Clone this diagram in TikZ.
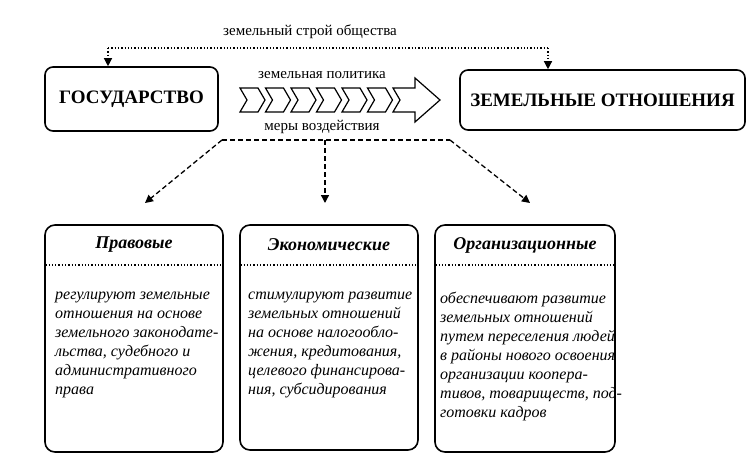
\documentclass[tikz,border=0pt]{standalone}
\usepackage{fontspec}
\setmainfont{Liberation Serif}
\usetikzlibrary{arrows.meta}
\begin{document}
\begin{tikzpicture}[x=1pt,y=-1pt,
  box/.style={draw,line width=1.6pt,rounded corners=8pt},
  card/.style={draw,line width=1.6pt,rounded corners=10pt},
  lbl/.style={font=\fontsize{15}{17}\selectfont},
  ttl/.style={font=\fontsize{18}{20}\selectfont\bfseries\itshape},
  body/.style={font=\fontsize{16}{19}\selectfont\itshape,align=left,anchor=north west,inner sep=0pt},
  dotl/.style={dotted,line width=1.3pt},
  dashln/.style={dash pattern=on 5pt off 3pt,line width=1.3pt},
  tip/.style={-{Triangle[length=8pt,width=8pt]}}]
\useasboundingbox (0,0) rectangle (756,466);
\node[box,minimum width=173pt,minimum height=64pt,font=\fontsize{19}{21}\selectfont\bfseries] (gos) at (131.5,99) {ГОСУДАРСТВО};
\node[box,minimum width=285pt,minimum height=60pt,font=\fontsize{19}{21}\selectfont\bfseries] (zo) at (602.5,100) {ЗЕМЕЛЬНЫЕ ОТНОШЕНИЯ};
\coordinate (t1) at (108,48); \coordinate (t2) at (548,48);
\draw[dotl] (t1) -- (t2);
\draw[dotl,tip] (t1) -- (gos.north -| t1);
\draw[dotl,tip] (t2) -- (zo.north -| t2);
\node[lbl] (stroj) at (310,32) {земельный строй общества};
\node[lbl] (pol) at (322,75) {земельная политика};
\node[lbl] (mery) at (322,127) {меры воздействия};
% chevrons
\foreach \i in {0,...,5}{
  \pgfmathsetmacro{\xa}{240+25.5*\i}
  \draw[line width=1.2pt] (\xa,88) -- (\xa+18,88) -- (\xa+25,100) -- (\xa+18,112) -- (\xa,112) -- (\xa+7,100) -- cycle;
}
\draw[line width=1.2pt] (393,88) -- (415,88) -- (415,78) -- (440,100) -- (415,122) -- (415,112) -- (393,112) -- (400,100) -- cycle;
% cards
\node[card,minimum width=178pt,minimum height=227pt] (c1) at (134,338.5) {};
\node[card,minimum width=178pt,minimum height=225pt] (c2) at (329,337.5) {};
\node[card,minimum width=180pt,minimum height=227pt] (c3) at (525,338.5) {};
\foreach \c/\t in {c1/Правовые,c2/Экономические,c3/Организационные}{
  \draw[dotl] ([xshift=1pt]\c.west |- 0,265) -- ([xshift=-1pt]\c.east |- 0,265);
  \node[ttl] at (\c.north |- 0,245) {\t};
}
\node[body] (b1) at (55,292) {регулируют земельные\\отношения на основе\\земельного законодате-\\льства, судебного и\\административного\\права};
\node[body] (b2) at (248,292) {стимулируют развитие\\земельных отношений\\на основе налогообло-\\жения, кредитования,\\целевого финансирова-\\ния, субсидирования};
\node[body] (b3) at (440,292) {обеспечивают развитие\\земельных отношений\\путем переселения людей\\в районы нового освоения\\организации коопера-\\тивов, товариществ, под-\\готовки кадров};
% dashed connectors
\coordinate (dl) at (222,140); \coordinate (dm) at (325,140); \coordinate (dr) at (450,140);
\draw[dashln] (dl) -- (dr);
\draw[dashln,tip] (dl) -- (145,203);
\draw[dashln,tip] (dm) -- (325,203);
\draw[dashln,tip] (dr) -- (530,203);
\end{tikzpicture}
\end{document}
